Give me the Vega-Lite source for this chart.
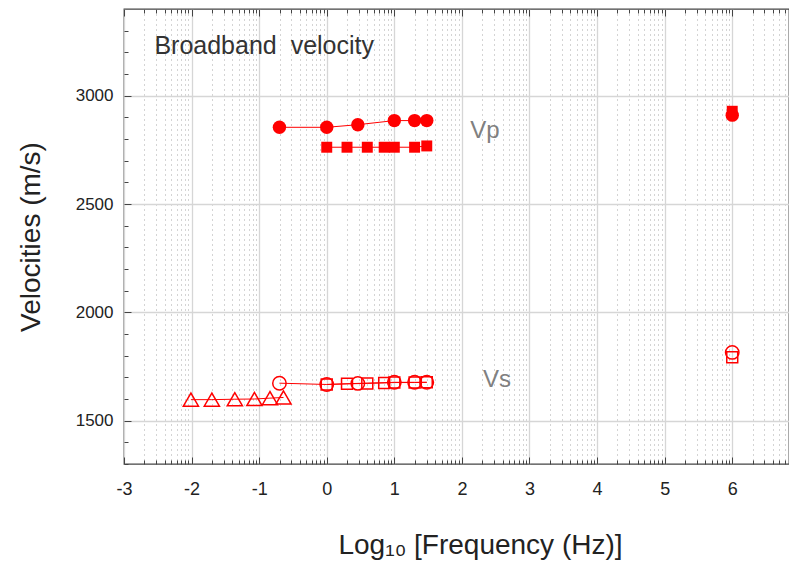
{
  "$schema": "https://vega.github.io/schema/vega-lite/v6.json",
  "width": 665,
  "height": 455,
  "autosize": {"type": "none"},
  "padding": {"left": 124, "top": 9, "right": 0, "bottom": 99},
  "background": "white",
  "config": {
    "font": "Liberation Sans",
    "view": {"stroke": "#444444", "strokeWidth": 1.3},
    "axis": {"domain": false, "labelFont": "Liberation Sans", "titleFont": "Liberation Sans", "labelColor": "#222222", "titleColor": "#222222", "tickColor": "#444444", "titleFontWeight": "normal"}
  },
  "datasets": {
    "pts": [
      {"group": "Vp", "series": "Vp circle", "marker": "circle", "x": -0.70, "y": 2854},
      {"group": "Vp", "series": "Vp circle", "marker": "circle", "x": 0.0, "y": 2854},
      {"group": "Vp", "series": "Vp circle", "marker": "circle", "x": 0.46, "y": 2866},
      {"group": "Vp", "series": "Vp circle", "marker": "circle", "x": 1.0, "y": 2885},
      {"group": "Vp", "series": "Vp circle", "marker": "circle", "x": 1.3, "y": 2885},
      {"group": "Vp", "series": "Vp circle", "marker": "circle", "x": 1.48, "y": 2885},
      {"group": "Vp", "series": "Vp square", "marker": "square", "x": 0.0, "y": 2762},
      {"group": "Vp", "series": "Vp square", "marker": "square", "x": 0.3, "y": 2762},
      {"group": "Vp", "series": "Vp square", "marker": "square", "x": 0.6, "y": 2762},
      {"group": "Vp", "series": "Vp square", "marker": "square", "x": 0.85, "y": 2762},
      {"group": "Vp", "series": "Vp square", "marker": "square", "x": 1.0, "y": 2762},
      {"group": "Vp", "series": "Vp square", "marker": "square", "x": 1.3, "y": 2762},
      {"group": "Vp", "series": "Vp square", "marker": "square", "x": 1.48, "y": 2768},
      {"group": "Vp", "series": "Vp single square", "marker": "square", "x": 6.0, "y": 2928},
      {"group": "Vp", "series": "Vp single circle", "marker": "circle", "x": 6.0, "y": 2910},
      {"group": "Vs", "series": "Vs triangle", "marker": "triangle", "x": -2.01, "y": 1597},
      {"group": "Vs", "series": "Vs triangle", "marker": "triangle", "x": -1.70, "y": 1597},
      {"group": "Vs", "series": "Vs triangle", "marker": "triangle", "x": -1.36, "y": 1599},
      {"group": "Vs", "series": "Vs triangle", "marker": "triangle", "x": -1.07, "y": 1600},
      {"group": "Vs", "series": "Vs triangle", "marker": "triangle", "x": -0.84, "y": 1604},
      {"group": "Vs", "series": "Vs triangle", "marker": "triangle", "x": -0.64, "y": 1607},
      {"group": "Vs", "series": "Vs circle", "marker": "circle", "x": -0.70, "y": 1673},
      {"group": "Vs", "series": "Vs circle", "marker": "circle", "x": 0.0, "y": 1667},
      {"group": "Vs", "series": "Vs circle", "marker": "circle", "x": 0.46, "y": 1672},
      {"group": "Vs", "series": "Vs circle", "marker": "circle", "x": 1.0, "y": 1677},
      {"group": "Vs", "series": "Vs circle", "marker": "circle", "x": 1.3, "y": 1677},
      {"group": "Vs", "series": "Vs circle", "marker": "circle", "x": 1.48, "y": 1677},
      {"group": "Vs", "series": "Vs square", "marker": "square", "x": 0.0, "y": 1667},
      {"group": "Vs", "series": "Vs square", "marker": "square", "x": 0.3, "y": 1670},
      {"group": "Vs", "series": "Vs square", "marker": "square", "x": 0.6, "y": 1672},
      {"group": "Vs", "series": "Vs square", "marker": "square", "x": 0.85, "y": 1674},
      {"group": "Vs", "series": "Vs square", "marker": "square", "x": 1.0, "y": 1676},
      {"group": "Vs", "series": "Vs square", "marker": "square", "x": 1.3, "y": 1676},
      {"group": "Vs", "series": "Vs square", "marker": "square", "x": 1.48, "y": 1677},
      {"group": "Vs", "series": "Vs single circle", "marker": "circle", "x": 6.0, "y": 1815},
      {"group": "Vs", "series": "Vs single square", "marker": "square", "x": 6.0, "y": 1793}
    ],
    "notes": [
      {"label": "Broadband\u00a0\u00a0velocity", "kind": "title", "x": -2.55, "y": 3228},
      {"label": "Vp", "kind": "series", "x": 2.34, "y": 2839},
      {"label": "Vs", "kind": "series", "x": 2.52, "y": 1687}
    ]
  },
  "resolve": {"axis": {"x": "independent", "y": "independent"}},
  "layer": [
    {
      "data": {"name": "pts"},
      "transform": [{"filter": "datum.x < 5"}],
      "mark": {"type": "line", "color": "#ff0000", "strokeWidth": 1},
      "encoding": {
        "x": {
          "field": "x", "type": "quantitative",
          "scale": {"domain": [-3, 6.84], "nice": false, "zero": false},
          "axis": {
            "orient": "bottom",
            "title": "Log₁₀ [Frequency (Hz)]",
            "titleFontSize": 28,
            "titlePadding": 30,
            "titleX": 356,
            "values": [-3, -2.69897, -2.52288, -2.39794, -2.30103, -2.22185, -2.1549, -2.09691, -2.04576,
                       -2, -1.69897, -1.52288, -1.39794, -1.30103, -1.22185, -1.1549, -1.09691, -1.04576,
                       -1, -0.69897, -0.52288, -0.39794, -0.30103, -0.22185, -0.1549, -0.09691, -0.04576,
                       0, 0.30103, 0.47712, 0.60206, 0.69897, 0.77815, 0.8451, 0.90309, 0.95424,
                       1, 1.30103, 1.47712, 1.60206, 1.69897, 1.77815, 1.8451, 1.90309, 1.95424,
                       2, 2.30103, 2.47712, 2.60206, 2.69897, 2.77815, 2.8451, 2.90309, 2.95424,
                       3, 3.30103, 3.47712, 3.60206, 3.69897, 3.77815, 3.8451, 3.90309, 3.95424,
                       4, 4.30103, 4.47712, 4.60206, 4.69897, 4.77815, 4.8451, 4.90309, 4.95424,
                       5, 5.30103, 5.47712, 5.60206, 5.69897, 5.77815, 5.8451, 5.90309, 5.95424,
                       6, 6.30103, 6.47712, 6.60206, 6.69897, 6.77815],
            "labelExpr": "abs(datum.value - round(datum.value)) < 0.0001 ? ('' + round(datum.value)) : ''",
            "labelFontSize": 18,
            "labelPadding": 23,
            "labelFlush": false,
            "labelOverlap": false,
            "grid": true,
            "gridColor": {"condition": {"test": "abs(datum.value - round(datum.value)) < 0.0001", "value": "#d6d6d6"}, "value": "#a8a8a8"},
            "gridWidth": {"condition": {"test": "abs(datum.value - round(datum.value)) < 0.0001", "value": 1.3}, "value": 1},
            "gridDash": {"condition": {"test": "abs(datum.value - round(datum.value)) < 0.0001", "value": []}, "value": [1, 4]},
            "tickSize": {"condition": {"test": "abs(datum.value - round(datum.value)) < 0.0001", "value": -7}, "value": -4}
          }
        },
        "y": {
          "field": "y", "type": "quantitative",
          "scale": {"domain": [1300, 3400], "nice": false, "zero": false},
          "axis": {
            "orient": "left",
            "title": "Velocities (m/s)",
            "titleFontSize": 28,
            "titlePadding": 30,
            "values": [1300, 1400, 1500, 1600, 1700, 1800, 1900, 2000, 2100, 2200, 2300, 2400, 2500, 2600, 2700, 2800, 2900, 3000, 3100, 3200, 3300],
            "labelExpr": "datum.value % 500 == 0 ? ('' + datum.value) : ''",
            "labelFontSize": 17,
            "labelPadding": 18,
            "labelOverlap": false,
            "grid": true,
            "gridColor": "#d6d6d6",
            "gridWidth": 1.3,
            "gridOpacity": {"condition": {"test": "datum.value % 500 == 0", "value": 1}, "value": 0},
            "tickSize": {"condition": {"test": "datum.value % 500 == 0", "value": -7}, "value": -4}
          }
        },
        "detail": {"field": "series"}
      }
    },
    {
      "data": {"name": "pts"},
      "transform": [{"filter": "datum.group == 'Vp' && datum.marker == 'square'"}],
      "mark": {"type": "point", "shape": "square", "size": 120, "filled": true, "color": "#ff0000", "opacity": 1},
      "encoding": {
        "x": {"field": "x", "type": "quantitative", "axis": null},
        "y": {"field": "y", "type": "quantitative", "axis": null}
      }
    },
    {
      "data": {"name": "pts"},
      "transform": [{"filter": "datum.group == 'Vp' && datum.marker == 'circle'"}],
      "mark": {"type": "point", "shape": "circle", "size": 180, "filled": true, "color": "#ff0000", "opacity": 1},
      "encoding": {
        "x": {"field": "x", "type": "quantitative", "axis": null},
        "y": {"field": "y", "type": "quantitative", "axis": null}
      }
    },
    {
      "data": {"name": "pts"},
      "transform": [{"filter": "datum.group == 'Vs' && datum.marker == 'triangle'"}],
      "mark": {"type": "point", "shape": "triangle-up", "size": 230, "filled": false, "color": "#ff0000", "strokeWidth": 1.5, "opacity": 1},
      "encoding": {
        "x": {"field": "x", "type": "quantitative", "axis": null},
        "y": {"field": "y", "type": "quantitative", "axis": null}
      }
    },
    {
      "data": {"name": "pts"},
      "transform": [{"filter": "datum.group == 'Vs' && datum.marker == 'square'"}],
      "mark": {"type": "point", "shape": "square", "size": 120, "filled": false, "color": "#ff0000", "strokeWidth": 1.5, "opacity": 1},
      "encoding": {
        "x": {"field": "x", "type": "quantitative", "axis": null},
        "y": {"field": "y", "type": "quantitative", "axis": null}
      }
    },
    {
      "data": {"name": "pts"},
      "transform": [{"filter": "datum.group == 'Vs' && datum.marker == 'circle'"}],
      "mark": {"type": "point", "shape": "circle", "size": 180, "filled": false, "color": "#ff0000", "strokeWidth": 1.5, "opacity": 1},
      "encoding": {
        "x": {"field": "x", "type": "quantitative", "axis": null},
        "y": {"field": "y", "type": "quantitative", "axis": null}
      }
    },
    {
      "data": {"name": "notes"},
      "transform": [{"filter": "datum.kind == 'title'"}],
      "mark": {"type": "text", "baseline": "middle", "align": "left", "fontSize": 25, "color": "#333333"},
      "encoding": {
        "x": {
          "field": "x", "type": "quantitative",
          "axis": {
            "orient": "top", "title": null, "labels": false, "grid": false,
            "values": [-3, -2.69897, -2.52288, -2.39794, -2.30103, -2.22185, -2.1549, -2.09691, -2.04576,
                       -2, -1.69897, -1.52288, -1.39794, -1.30103, -1.22185, -1.1549, -1.09691, -1.04576,
                       -1, -0.69897, -0.52288, -0.39794, -0.30103, -0.22185, -0.1549, -0.09691, -0.04576,
                       0, 0.30103, 0.47712, 0.60206, 0.69897, 0.77815, 0.8451, 0.90309, 0.95424,
                       1, 1.30103, 1.47712, 1.60206, 1.69897, 1.77815, 1.8451, 1.90309, 1.95424,
                       2, 2.30103, 2.47712, 2.60206, 2.69897, 2.77815, 2.8451, 2.90309, 2.95424,
                       3, 3.30103, 3.47712, 3.60206, 3.69897, 3.77815, 3.8451, 3.90309, 3.95424,
                       4, 4.30103, 4.47712, 4.60206, 4.69897, 4.77815, 4.8451, 4.90309, 4.95424,
                       5, 5.30103, 5.47712, 5.60206, 5.69897, 5.77815, 5.8451, 5.90309, 5.95424,
                       6, 6.30103, 6.47712, 6.60206, 6.69897, 6.77815],
            "tickSize": {"condition": {"test": "abs(datum.value - round(datum.value)) < 0.0001", "value": -7}, "value": -4}
          }
        },
        "y": {"field": "y", "type": "quantitative", "axis": null},
        "text": {"field": "label"}
      }
    },
    {
      "data": {"name": "notes"},
      "transform": [{"filter": "datum.kind == 'series'"}],
      "mark": {"type": "text", "baseline": "middle", "align": "center", "fontSize": 24, "color": "#808080"},
      "encoding": {
        "x": {"field": "x", "type": "quantitative", "axis": null},
        "y": {"field": "y", "type": "quantitative", "axis": null},
        "text": {"field": "label"}
      }
    }
  ]
}
